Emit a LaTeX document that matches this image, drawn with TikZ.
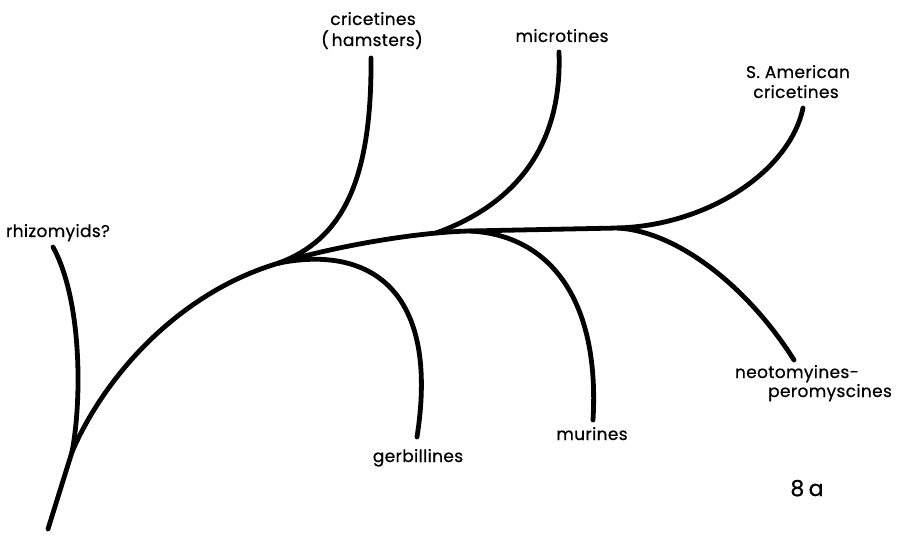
\documentclass[tikz,border=0pt]{standalone}
\usepackage{fontspec}
\setmainfont{Poppins}[FakeBold=0.6]
\begin{document}
\begin{tikzpicture}[x=1pt,y=-1pt,
  branch/.style={line width=4.8pt,line cap=round,line join=round},
  lbl/.style={anchor=base,inner sep=0pt,font=\fontsize{17}{20}\selectfont\addfontfeatures{LetterSpace=2}},
  figlbl/.style={anchor=base,inner sep=0pt,font=\fontsize{22}{24}\selectfont}]
\useasboundingbox[fill=white] (0,0) rectangle (897,537);
% junctions and tips
\coordinate (root) at (48,529);
\coordinate (jr) at (72,452);
\coordinate (j1) at (279,263);
\coordinate (j2) at (436,233);
\coordinate (j3) at (470,231);
\coordinate (j4) at (618,228);
\coordinate (tRh) at (53,247);
\coordinate (tCr) at (371,58);
\coordinate (tMi) at (559,52);
\coordinate (tSA) at (803,108);
\coordinate (tNe) at (794,360);
\coordinate (tMu) at (593,420);
\coordinate (tGe) at (417,437);
% labels
\node[lbl] (lRh) at (58,237) {rhizomyids?};
\node[lbl] (lCr1) at (373,25) {cricetines};
\node[lbl] (lCr2) at (372,46) {(\,hamsters)};
\node[lbl] (lMi) at (562,42) {microtines};
\node[lbl] (lSA1) at (798,78) {S.\ American};
\node[lbl] (lSA2) at (796,98) {cricetines};
\node[lbl] (lNe1) at (797,378) {neotomyines-};
\node[lbl] (lNe2) at (830,397) {peromyscines};
\node[lbl] (lMu) at (592,440) {murines};
\node[lbl] (lGe) at (418,462) {gerbillines};
\node[figlbl] (lFig) at (807,496) {8\hspace{0.2em}a};
% branches
\draw[branch] (root) -- (jr) .. controls (105,375) and (180,292) .. (j1);
\draw[branch] (tRh) .. controls (82,300) and (82,400) .. (jr);
\draw[branch] (j1) .. controls (340,245) and (420,232) .. (j3) -- (j4);
\draw[branch] (j1) .. controls (340,240) and (372,185) .. (tCr);
\draw[branch] (j1) .. controls (370,245) and (440,290) .. (tGe);
\draw[branch] (j2) .. controls (500,210) and (563,160) .. (tMi);
\draw[branch] (j3) .. controls (550,235) and (600,300) .. (tMu);
\draw[branch] (j4) .. controls (710,225) and (790,170) .. (tSA);
\draw[branch] (j4) .. controls (680,232) and (750,290) .. (tNe);
\end{tikzpicture}
\end{document}
